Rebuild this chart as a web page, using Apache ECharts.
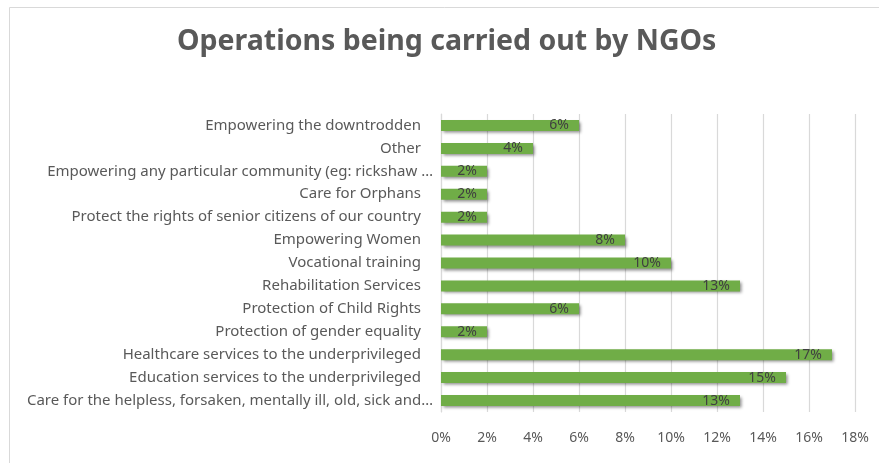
<!DOCTYPE html>
<html>
<head>
<meta charset="utf-8">
<script src="https://cdn.jsdelivr.net/npm/echarts@6/dist/echarts.min.js"></script>
<style>
  html, body { margin: 0; padding: 0; background: #ffffff; }
  #chart { width: 879px; height: 463px; }
</style>
</head>
<body>
<div id="chart"></div>
<script>
// Categories listed bottom-to-top, as the category axis draws them
const categories = [
  'Care for the helpless, forsaken, mentally ill, old, sick and…',
  'Education services to the underprivileged',
  'Healthcare services to the underprivileged',
  'Protection of gender equality',
  'Protection of Child Rights',
  'Rehabilitation Services',
  'Vocational training',
  'Empowering Women',
  'Protect the rights of senior citizens of our country',
  'Care for Orphans',
  'Empowering any particular community (eg: rickshaw …',
  'Other',
  'Empowering the downtrodden'
];
// Share of NGOs per operation, in percent
const shares = [13, 15, 17, 2, 6, 13, 10, 8, 2, 2, 2, 4, 6];
const xTicks = [0, 2, 4, 6, 8, 10, 12, 14, 16, 18];

const FONT = '"Noto Sans", "Open Sans", sans-serif';
const LABEL_SIZE = 15;
const chart = echarts.init(document.getElementById('chart'), null, { renderer: 'canvas' });

chart.setOption({
  backgroundColor: '#ffffff',
  animation: false,
  title: {
    text: 'Operations being carried out by NGOs',
    left: 177,
    top: 27,
    padding: 0,
    textStyle: { fontFamily: FONT, fontSize: 28.5, fontWeight: 'bold', color: '#595959' }
  },
  graphic: [{
    type: 'rect',
    shape: { x: 9.5, y: 7.5, width: 1000, height: 600 },
    style: { fill: 'none', stroke: '#d9d9d9', lineWidth: 1 },
    silent: true,
    z: -1
  }],
  grid: { left: 441, right: 24, top: 114, bottom: 51, containLabel: false },
  xAxis: {
    type: 'value',
    min: xTicks[0],
    max: xTicks[xTicks.length - 1],
    interval: xTicks[1] - xTicks[0],
    axisLine: { show: false },
    axisTick: { show: false },
    splitLine: { show: true, lineStyle: { color: '#d9d9d9', width: 1.2 } },
    axisLabel: {
      formatter: '{value}%',
      margin: 19,
      fontFamily: FONT, fontSize: 14, color: '#595959'
    }
  },
  yAxis: {
    type: 'category',
    data: categories,
    axisLine: { show: true, lineStyle: { color: '#d9d9d9', width: 1.2 } },
    axisTick: { show: false },
    axisLabel: {
      margin: 8,
      fontFamily: FONT, fontSize: LABEL_SIZE, color: '#595959',
      formatter: function (v) {
        return v.endsWith('…') ? '{e|' + v + '}' : '{n|' + v + '}';
      },
      rich: {
        e: { fontFamily: FONT, fontSize: LABEL_SIZE, color: '#595959' },
        n: { fontFamily: FONT, fontSize: LABEL_SIZE, color: '#595959', padding: [0, 12, 0, 0] }
      }
    }
  },
  series: [{
    type: 'bar',
    data: shares,
    barWidth: 11,
    itemStyle: {
      color: '#70ad47',
      shadowColor: 'rgba(0,0,0,0.45)',
      shadowBlur: 3,
      shadowOffsetX: 1.5,
      shadowOffsetY: 2
    },
    label: {
      show: true,
      position: 'insideRight',
      distance: 10,
      formatter: '{c}%',
      fontFamily: FONT, fontSize: 14, color: '#404040'
    }
  }]
});
</script>
</body>
</html>
